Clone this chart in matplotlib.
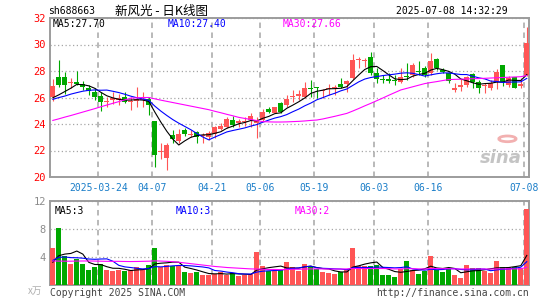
import matplotlib.pyplot as plt
import matplotlib.patches as mpatches
import pandas as pd

W, H = 545, 300

# daily candles, 2025-03-12 .. 2025-07-08 (80 trading days)
opens = [26.02, 27.57, 27.55, 27.10, 27.15, 27.00, 26.74, 26.44, 26.11, 25.68,
         25.78, 25.80, 26.05, 25.65, 25.72, 25.80, 25.92, 24.25, 21.86, 21.41,
         23.14, 22.74, 23.55, 23.20, 23.37, 23.10, 22.99, 23.24, 23.60, 23.80,
         24.30, 24.10, 24.15, 24.30, 24.10, 24.30, 25.15, 24.86, 25.58, 25.43,
         26.05, 26.15, 26.06, 26.72, 26.72, 26.50, 26.65, 26.70, 27.00, 27.00,
         27.45, 28.85, 28.75, 29.05, 27.82, 27.35, 27.32, 27.32, 27.20, 27.60,
         27.70, 28.00, 28.20, 27.82, 28.90, 28.10, 27.87, 26.60, 26.77, 26.94,
         27.77, 27.17, 26.85, 26.69, 27.19, 28.45, 26.94, 27.55, 26.90, 27.70]
highs = [27.37, 28.83, 27.95, 27.45, 28.00, 27.25, 26.94, 26.69, 26.44, 26.06,
         26.44, 26.30, 26.44, 26.06, 26.80, 26.44, 26.06, 24.25, 22.54, 22.59,
         23.55, 23.60, 23.67, 23.55, 23.50, 23.35, 23.45, 23.85, 24.05, 24.50,
         24.60, 24.40, 24.50, 24.80, 24.55, 25.10, 25.30, 25.30, 25.65, 26.19,
         26.57, 26.57, 27.20, 27.32, 26.82, 26.67, 26.99, 26.94, 27.45, 27.32,
         29.28, 29.08, 28.96, 29.40, 28.20, 27.70, 27.82, 27.70, 28.20, 28.58,
         28.63, 28.78, 28.38, 29.33, 28.95, 28.20, 27.95, 27.07, 27.37, 27.62,
         27.82, 27.32, 27.07, 27.30, 28.13, 28.45, 27.60, 27.57, 27.45, 31.30]
lows = [25.74, 26.82, 26.30, 26.70, 26.94, 26.57, 26.19, 25.81, 25.00, 25.26,
        25.51, 25.45, 25.56, 25.02, 25.30, 25.30, 24.70, 20.78, 21.33, 20.53,
        22.54, 22.54, 23.09, 22.99, 22.60, 22.60, 22.80, 22.92, 23.55, 23.70,
        23.80, 23.80, 23.85, 23.80, 22.95, 24.20, 24.80, 24.80, 24.85, 25.26,
        25.68, 25.80, 25.94, 26.06, 26.00, 25.94, 26.19, 26.20, 26.69, 26.44,
        27.40, 28.20, 28.33, 27.70, 27.07, 27.07, 27.07, 26.94, 27.07, 27.32,
        27.57, 27.70, 27.57, 27.70, 28.10, 27.85, 27.07, 26.44, 26.52, 26.80,
        26.69, 26.37, 26.37, 26.60, 26.62, 26.90, 26.80, 26.74, 26.69, 27.60]
closes = [26.87, 26.94, 26.95, 27.15, 27.04, 26.77, 26.49, 26.01, 25.66, 25.72,
          25.98, 25.95, 25.68, 25.70, 25.86, 25.84, 25.45, 21.66, 21.92, 22.39,
          22.87, 23.24, 23.22, 23.25, 23.04, 23.15, 23.29, 23.75, 23.85, 24.35,
          23.95, 24.20, 24.22, 24.60, 24.20, 24.93, 24.92, 25.26, 24.93, 25.89,
          26.12, 26.20, 26.69, 26.65, 26.68, 26.55, 26.72, 26.75, 26.78, 27.27,
          28.83, 28.90, 28.80, 27.82, 27.37, 27.30, 27.28, 27.27, 27.52, 27.55,
          28.45, 27.90, 27.70, 28.75, 28.20, 27.95, 27.25, 26.65, 26.94, 27.52,
          27.20, 26.69, 26.90, 27.07, 27.95, 27.19, 27.50, 26.74, 27.05, 30.14]
volumes = [5.24, 8.10, 4.14, 3.05, 3.73, 3.05, 2.20, 2.62, 3.00, 2.20,
           1.95, 2.14, 1.95, 2.10, 2.62, 2.20, 2.80, 5.33, 2.62, 2.90,
           2.70, 2.70, 1.83, 1.65, 1.83, 1.40, 1.48, 1.60, 1.83, 1.48,
           1.76, 1.24, 1.43, 1.60, 4.65, 2.65, 2.07, 2.00, 2.14, 3.29,
           2.60, 2.00, 2.95, 2.60, 2.33, 1.86, 1.76, 1.52, 1.86, 2.33,
           5.33, 2.67, 2.74, 2.76, 2.90, 1.48, 1.36, 1.10, 2.24, 3.48,
           2.17, 1.62, 2.07, 4.10, 2.20, 1.80, 2.30, 1.40, 1.05, 2.90,
           2.48, 2.48, 2.00, 1.76, 3.48, 2.62, 2.62, 2.62, 2.45, 10.80]

# the nine sessions before the window (estimated from where the MA lines start)
prev_close = [25.60, 25.80, 25.70, 25.90, 25.70, 25.84, 25.70, 25.90, 25.59]
prev_vol = [3.80, 3.60, 4.00, 3.90, 3.66, 3.40, 3.00, 2.60, 2.00]

# 30-day averages
ma30 = [24.27, 24.39, 24.52, 24.64, 24.77, 24.90, 25.03, 25.16, 25.30, 25.43,
        25.56, 25.69, 25.82, 25.95, 25.98, 26.00, 26.00, 25.90, 25.80, 25.71,
        25.62, 25.53, 25.44, 25.35, 25.26, 25.17, 25.08, 24.96, 24.85, 24.73,
        24.62, 24.50, 24.42, 24.34, 24.26, 24.18, 24.16, 24.15, 24.15, 24.16,
        24.18, 24.20, 24.23, 24.27, 24.30, 24.38, 24.48, 24.58, 24.69, 24.80,
        24.98, 25.17, 25.37, 25.56, 25.76, 25.96, 26.17, 26.37, 26.57, 26.69,
        26.81, 26.93, 27.05, 27.13, 27.20, 27.28, 27.35, 27.37, 27.38, 27.40,
        27.42, 27.43, 27.45, 27.47, 27.49, 27.51, 27.53, 27.55, 27.57, 27.66]
vol_ma30 = [3.43, 3.42, 3.40, 3.40, 3.42, 3.43, 3.43, 3.42, 3.40, 3.38,
            3.38, 3.38, 3.36, 3.35, 3.36, 3.38, 3.40, 3.45, 3.42, 3.38,
            3.33, 3.25, 3.15, 3.05, 2.95, 2.85, 2.75, 2.65, 2.58, 2.50,
            2.45, 2.40, 2.35, 2.30, 2.28, 2.25, 2.22, 2.22, 2.20, 2.22,
            2.25, 2.25, 2.28, 2.30, 2.30, 2.30, 2.28, 2.28, 2.28, 2.30,
            2.35, 2.35, 2.35, 2.35, 2.35, 2.35, 2.33, 2.30, 2.30, 2.33,
            2.33, 2.30, 2.30, 2.35, 2.35, 2.33, 2.33, 2.30, 2.28, 2.30,
            2.30, 2.30, 2.28, 2.28, 2.30, 2.30, 2.30, 2.30, 2.30, 2.55]

date_idx = [8, 17, 27, 35, 44, 54, 63, 79]
date_labels = ['2025-03-24', '04-07', '04-21', '05-06', '05-19', '06-03', '06-16', '07-08']

RED = '#ff5555'
GREEN = '#00a800'
GRID = '#a6a6a6'
EDGE = '#9c9c9c'
BLUE = '#1a7dc8'
MONO = ['DejaVu Sans Mono', 'Noto Sans CJK SC']
CJK = ['Noto Sans CJK SC', 'DejaVu Sans']

plt.rcParams['font.family'] = MONO

n = len(closes)
xs = list(range(n))
colors = [RED if c >= o else GREEN for o, c in zip(opens, closes)]

full_c = pd.Series(prev_close + closes)
ma5 = full_c.rolling(5).mean().iloc[len(prev_close):].values
ma10 = full_c.rolling(10).mean().iloc[len(prev_close):].values
full_v = pd.Series(prev_vol + volumes)
vma5 = full_v.rolling(5).mean().iloc[len(prev_vol):].values
vma10 = full_v.rolling(10).mean().iloc[len(prev_vol):].values


def box(left, top, right, bottom):
    return [left / W, 1 - bottom / H, (right - left) / W, (bottom - top) / H]


fig = plt.figure(figsize=(W / 100, H / 100), dpi=100)
ax = fig.add_axes(box(50, 18, 529, 177))
axv = fig.add_axes(box(50, 201, 529, 285))

# candles
bottoms = [min(o, c) for o, c in zip(opens, closes)]
heights = [max(abs(c - o), 0.08) for o, c in zip(opens, closes)]
ax.vlines(xs, lows, highs, colors=colors, lw=0.8, zorder=3)
ax.bar(xs, heights, bottom=bottoms, width=0.84, color=colors, zorder=4)

ax.plot(xs, ma5, color='black', lw=0.8, zorder=5)
ax.plot(xs, ma10, color='#0000ff', lw=0.8, zorder=5)
ax.plot(xs, ma30, color='#ff00ff', lw=0.8, zorder=5)

# volume
axv.bar(xs, volumes, width=0.86, color=colors, zorder=3)
axv.plot(xs, vma5, color='black', lw=0.8, zorder=5)
axv.plot(xs, vma10, color='#0000ff', lw=0.8, zorder=5)
axv.plot(xs, vol_ma30, color='#ff00ff', lw=0.8, zorder=5)

tick_pos = [i - 0.42 for i in date_idx]
for a in (ax, axv):
    a.set_xlim(-0.47, 79.37)
    a.set_xticks(tick_pos)
    a.grid(axis='x', ls=(0, (3.6, 2.9)), color=GRID, lw=1.1, zorder=1)
    a.grid(axis='y', ls=(0, (1, 2)), color=GRID, lw=0.9, zorder=1)
    for s in a.spines.values():
        s.set_color(EDGE)
        s.set_linewidth(1.4)
    a.tick_params(length=0, labelsize=7.5, pad=3)

ax.set_ylim(20, 32)
ax.set_yticks(range(20, 33, 2))
ax.tick_params(axis='y', labelcolor='#ff0000')
ax.set_xticklabels(date_labels)
ax.tick_params(axis='x', labelcolor=BLUE, labelsize=7, pad=4)

axv.set_ylim(0, 12)
axv.set_yticks([4, 8, 12])
axv.tick_params(axis='y', labelcolor='#8c8c8c')
axv.set_xticklabels([])

# moving average captions
ax.text(0.005, 0.962, 'MA5:27.70', transform=ax.transAxes, color='black', fontsize=7, va='center')
ax.text(0.245, 0.962, 'MA10:27.40', transform=ax.transAxes, color='#0000ff', fontsize=7, va='center')
ax.text(0.486, 0.962, 'MA30:27.66', transform=ax.transAxes, color='#ff00ff', fontsize=7, va='center')
axv.text(0.01, 0.88, 'MA5:3', transform=axv.transAxes, color='black', fontsize=7, va='center')
axv.text(0.262, 0.88, 'MA10:3', transform=axv.transAxes, color='#0000ff', fontsize=7, va='center')
axv.text(0.511, 0.88, 'MA30:2', transform=axv.transAxes, color='#ff00ff', fontsize=7, va='center')

# sina watermark
ax.text(0.985, 0.12, 'sina', transform=ax.transAxes, color='#c4c4c4', fontsize=13,
        fontstyle='italic', fontweight='bold', family='DejaVu Sans', ha='right', va='center')
ax.add_patch(mpatches.Circle((0.955, 0.24), 0.018, transform=ax.transAxes,
                             facecolor='none', edgecolor='#f2b0b0', lw=2.0))

# header / footer
fig.text(48 / W, 1 - 11 / H, 'sh688663', fontsize=7, va='center')
fig.text(115 / W, 1 - 11 / H, '新风光 - 日K线图', fontsize=9, va='center', family=CJK)
fig.text(508 / W, 1 - 11 / H, '2025-07-08 14:32:29', fontsize=7, va='center', ha='right')
fig.text(28 / W, 1 - 291 / H, 'x万', fontsize=7, va='center', color='#b0b0b0', family=CJK)
fig.text(50 / W, 1 - 293 / H, 'Copyright 2025 SINA.COM', fontsize=7, va='center', color='#444444')
fig.text(529 / W, 1 - 293 / H, 'http://finance.sina.com.cn', fontsize=7, va='center',
         ha='right', color='#444444')

fig.savefig('out.png', dpi=100)
